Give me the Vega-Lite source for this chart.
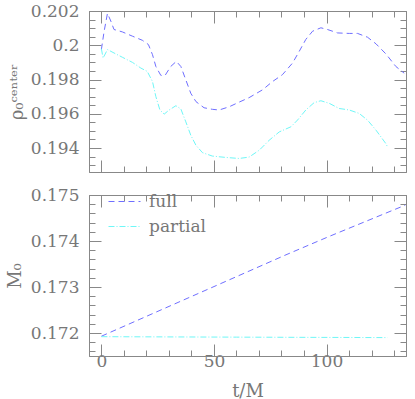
{
  "$schema": "https://vega.github.io/schema/vega-lite/v6.json",
  "padding": {"left": 5, "top": 1, "right": 8, "bottom": 0},
  "spacing": 10,
  "datasets": {
    "rho": [
      {"t": 0, "v": 0.19975, "series": "full"},
      {"t": 1.2, "v": 0.2008, "series": "full"},
      {"t": 2.7, "v": 0.20186, "series": "full"},
      {"t": 4.2, "v": 0.20141, "series": "full"},
      {"t": 5.6, "v": 0.20092, "series": "full"},
      {"t": 9.3, "v": 0.20078, "series": "full"},
      {"t": 13.8, "v": 0.20053, "series": "full"},
      {"t": 18.2, "v": 0.20029, "series": "full"},
      {"t": 20.9, "v": 0.20004, "series": "full"},
      {"t": 22.7, "v": 0.19945, "series": "full"},
      {"t": 24.2, "v": 0.19876, "series": "full"},
      {"t": 26.4, "v": 0.19824, "series": "full"},
      {"t": 28.3, "v": 0.19824, "series": "full"},
      {"t": 30.8, "v": 0.19876, "series": "full"},
      {"t": 33.3, "v": 0.19906, "series": "full"},
      {"t": 35.3, "v": 0.19876, "series": "full"},
      {"t": 37.5, "v": 0.19798, "series": "full"},
      {"t": 39.7, "v": 0.1972, "series": "full"},
      {"t": 42, "v": 0.19671, "series": "full"},
      {"t": 45.6, "v": 0.19635, "series": "full"},
      {"t": 49.3, "v": 0.19626, "series": "full"},
      {"t": 52.3, "v": 0.19622, "series": "full"},
      {"t": 56.8, "v": 0.19641, "series": "full"},
      {"t": 61.2, "v": 0.19668, "series": "full"},
      {"t": 65.6, "v": 0.19694, "series": "full"},
      {"t": 71.6, "v": 0.1974, "series": "full"},
      {"t": 76, "v": 0.19788, "series": "full"},
      {"t": 80.4, "v": 0.19828, "series": "full"},
      {"t": 84.9, "v": 0.19896, "series": "full"},
      {"t": 87.9, "v": 0.19965, "series": "full"},
      {"t": 90.8, "v": 0.20034, "series": "full"},
      {"t": 93.8, "v": 0.20082, "series": "full"},
      {"t": 97.5, "v": 0.20102, "series": "full"},
      {"t": 100.4, "v": 0.20092, "series": "full"},
      {"t": 104.9, "v": 0.20072, "series": "full"},
      {"t": 110.1, "v": 0.20069, "series": "full"},
      {"t": 113.8, "v": 0.20069, "series": "full"},
      {"t": 118.2, "v": 0.20047, "series": "full"},
      {"t": 122, "v": 0.20008, "series": "full"},
      {"t": 126.4, "v": 0.19949, "series": "full"},
      {"t": 130.8, "v": 0.19876, "series": "full"},
      {"t": 134.5, "v": 0.19837, "series": "full"},
      {"t": 0, "v": 0.1998, "series": "partial"},
      {"t": 0.75, "v": 0.19925, "series": "partial"},
      {"t": 2.7, "v": 0.19975, "series": "partial"},
      {"t": 5.6, "v": 0.19955, "series": "partial"},
      {"t": 9.3, "v": 0.1993, "series": "partial"},
      {"t": 13.8, "v": 0.199, "series": "partial"},
      {"t": 17.5, "v": 0.19867, "series": "partial"},
      {"t": 20.4, "v": 0.19847, "series": "partial"},
      {"t": 22.7, "v": 0.19788, "series": "partial"},
      {"t": 24.2, "v": 0.197, "series": "partial"},
      {"t": 26, "v": 0.19622, "series": "partial"},
      {"t": 27.9, "v": 0.19598, "series": "partial"},
      {"t": 30.1, "v": 0.19622, "series": "partial"},
      {"t": 33.1, "v": 0.19647, "series": "partial"},
      {"t": 35.3, "v": 0.19628, "series": "partial"},
      {"t": 37.5, "v": 0.19553, "series": "partial"},
      {"t": 39.7, "v": 0.19475, "series": "partial"},
      {"t": 42, "v": 0.19416, "series": "partial"},
      {"t": 44.9, "v": 0.19373, "series": "partial"},
      {"t": 49.3, "v": 0.19353, "series": "partial"},
      {"t": 55.3, "v": 0.19345, "series": "partial"},
      {"t": 61.2, "v": 0.19339, "series": "partial"},
      {"t": 65.6, "v": 0.19347, "series": "partial"},
      {"t": 70.1, "v": 0.19387, "series": "partial"},
      {"t": 74.5, "v": 0.19445, "series": "partial"},
      {"t": 79, "v": 0.19494, "series": "partial"},
      {"t": 84.2, "v": 0.19524, "series": "partial"},
      {"t": 87.1, "v": 0.19563, "series": "partial"},
      {"t": 90.8, "v": 0.19622, "series": "partial"},
      {"t": 94.5, "v": 0.19665, "series": "partial"},
      {"t": 97.5, "v": 0.19676, "series": "partial"},
      {"t": 101.2, "v": 0.19661, "series": "partial"},
      {"t": 105.6, "v": 0.19631, "series": "partial"},
      {"t": 110.1, "v": 0.19622, "series": "partial"},
      {"t": 114.5, "v": 0.19602, "series": "partial"},
      {"t": 118.2, "v": 0.19563, "series": "partial"},
      {"t": 122, "v": 0.19504, "series": "partial"},
      {"t": 126.4, "v": 0.19425, "series": "partial"},
      {"t": 127.1, "v": 0.19406, "series": "partial"}
    ],
    "mass": [
      {"t": 0, "v": 0.17193, "series": "full"},
      {"t": 82, "v": 0.1737, "series": "full"},
      {"t": 101.2, "v": 0.1741, "series": "full"},
      {"t": 135, "v": 0.17478, "series": "full"},
      {"t": 0, "v": 0.17192, "series": "partial"},
      {"t": 60, "v": 0.17191, "series": "partial"},
      {"t": 127.1, "v": 0.1719, "series": "partial"}
    ]
  },
  "resolve": {"scale": {"color": "independent", "strokeDash": "independent"}},
  "vconcat": [
    {
      "width": 317,
      "height": 161,
      "data": {"name": "rho"},
      "resolve": {"axis": {"x": "independent", "y": "independent"}},
      "layer": [
        {
          "transform": [{"filter": "datum.series === 'full'"}],
          "mark": {"type": "line", "strokeWidth": 1, "clip": true},
          "encoding": {
            "x": {"field": "t", "type": "quantitative",
              "scale": {"domain": [-5.5, 135.3], "nice": false, "zero": false},
              "axis": {"orient": "bottom", "title": null, "labels": false,
                "values": [0,10,20,30,40,50,60,70,80,90,100,110,120,130],
                "tickSize": {"condition": {"test": "datum.value % 50 === 0", "value": -12}, "value": -6}}},
            "y": {"field": "v", "type": "quantitative",
              "scale": {"domain": [0.1926, 0.202], "nice": false, "zero": false},
              "axis": {"orient": "left", "title": "ρ₀ᶜᵉⁿᵗᵉʳ", "titlePadding": 4,
                "values": [0.193,0.1935,0.194,0.1945,0.195,0.1955,0.196,0.1965,0.197,0.1975,0.198,0.1985,0.199,0.1995,0.2,0.2005,0.201,0.2015,0.202],
                "labelExpr": "(abs(datum.value*500 - round(datum.value*500)) < 1e-6) ? format(datum.value, '~g') : ''",
                "labelPadding": 22,
                "tickSize": {"condition": {"test": "abs(datum.value*500 - round(datum.value*500)) < 1e-6", "value": -12}, "value": -6}}},
            "color": {"field": "series", "type": "nominal", "legend": null,
              "scale": {"domain": ["full", "partial"], "range": ["#6f6fff", "#6ff7f7"]}},
            "strokeDash": {"field": "series", "type": "nominal", "legend": null,
              "scale": {"domain": ["full", "partial"], "range": [[6, 4], [6, 2, 1, 2]]}}
          }
        },
        {
          "transform": [{"filter": "datum.series === 'partial'"}],
          "mark": {"type": "line", "strokeWidth": 1, "clip": true},
          "encoding": {
            "x": {"field": "t", "type": "quantitative",
              "axis": {"orient": "top", "title": null, "labels": false,
                "values": [0,10,20,30,40,50,60,70,80,90,100,110,120,130],
                "tickSize": {"condition": {"test": "datum.value % 50 === 0", "value": -12}, "value": -6}}},
            "y": {"field": "v", "type": "quantitative",
              "axis": {"orient": "right", "title": null, "labels": false,
                "values": [0.193,0.1935,0.194,0.1945,0.195,0.1955,0.196,0.1965,0.197,0.1975,0.198,0.1985,0.199,0.1995,0.2,0.2005,0.201,0.2015,0.202],
                "tickSize": {"condition": {"test": "abs(datum.value*500 - round(datum.value*500)) < 1e-6", "value": -12}, "value": -6}}},
            "color": {"field": "series", "type": "nominal", "legend": null},
            "strokeDash": {"field": "series", "type": "nominal", "legend": null}
          }
        }
      ]
    },
    {
      "width": 317,
      "height": 161,
      "data": {"name": "mass"},
      "resolve": {"axis": {"x": "independent", "y": "independent"}},
      "layer": [
        {
          "transform": [{"filter": "datum.series === 'full'"}],
          "mark": {"type": "line", "strokeWidth": 1, "clip": true},
          "encoding": {
            "x": {"field": "t", "type": "quantitative",
              "scale": {"domain": [-5.5, 135.3], "nice": false, "zero": false},
              "axis": {"orient": "bottom", "title": "t/M", "titlePadding": 7,
                "values": [0,10,20,30,40,50,60,70,80,90,100,110,120,130],
                "labelExpr": "datum.value % 50 === 0 ? datum.label : ''",
                "labelPadding": 9,
                "tickSize": {"condition": {"test": "datum.value % 50 === 0", "value": -12}, "value": -6}}},
            "y": {"field": "v", "type": "quantitative",
              "scale": {"domain": [0.1715, 0.175], "nice": false, "zero": false},
              "axis": {"orient": "left", "title": "M₀", "titlePadding": 6,
                "values": [0.1716,0.1718,0.172,0.1722,0.1724,0.1726,0.1728,0.173,0.1732,0.1734,0.1736,0.1738,0.174,0.1742,0.1744,0.1746,0.1748,0.175],
                "labelExpr": "(abs(datum.value*1000 - round(datum.value*1000)) < 1e-6) ? format(datum.value, '~g') : ''",
                "labelPadding": 22,
                "tickSize": {"condition": {"test": "abs(datum.value*1000 - round(datum.value*1000)) < 1e-6", "value": -12}, "value": -6}}},
            "color": {"field": "series", "type": "nominal",
              "scale": {"domain": ["full", "partial"], "range": ["#6f6fff", "#6ff7f7"]},
              "legend": {"title": null, "orient": "top-left", "offset": -10, "padding": 0, "symbolOffset": 29, "rowPadding": -10, "labelOffset": 8}},
            "strokeDash": {"field": "series", "type": "nominal",
              "scale": {"domain": ["full", "partial"], "range": [[6, 4], [6, 2, 1, 2]]},
              "legend": {"title": null, "orient": "top-left", "offset": -10, "padding": 0, "symbolOffset": 29, "rowPadding": -10, "labelOffset": 8}}
          }
        },
        {
          "transform": [{"filter": "datum.series === 'partial'"}],
          "mark": {"type": "line", "strokeWidth": 1, "clip": true},
          "encoding": {
            "x": {"field": "t", "type": "quantitative",
              "axis": {"orient": "top", "title": null, "labels": false,
                "values": [0,10,20,30,40,50,60,70,80,90,100,110,120,130],
                "tickSize": {"condition": {"test": "datum.value % 50 === 0", "value": -12}, "value": -6}}},
            "y": {"field": "v", "type": "quantitative",
              "axis": {"orient": "right", "title": null, "labels": false,
                "values": [0.1716,0.1718,0.172,0.1722,0.1724,0.1726,0.1728,0.173,0.1732,0.1734,0.1736,0.1738,0.174,0.1742,0.1744,0.1746,0.1748,0.175],
                "tickSize": {"condition": {"test": "abs(datum.value*1000 - round(datum.value*1000)) < 1e-6", "value": -12}, "value": -6}}},
            "color": {"field": "series", "type": "nominal"},
            "strokeDash": {"field": "series", "type": "nominal"}
          }
        }
      ]
    }
  ],
  "config": {
    "view": {"stroke": "#888"},
    "axis": {
      "grid": false,
      "domainColor": "#888",
      "tickColor": "#888",
      "tickWidth": 1,
      "labelColor": "#777",
      "titleColor": "#777",
      "labelFont": "DejaVu Serif",
      "titleFont": "DejaVu Serif",
      "labelFontSize": 17,
      "titleFontSize": 18,
      "titleFontWeight": "normal",
      "labelFlush": false,
      "labelOverlap": false
    },
    "legend": {
      "labelFont": "DejaVu Serif",
      "labelFontSize": 17,
      "labelColor": "#777",
      "symbolType": "stroke",
      "symbolSize": 1024,
      "symbolStrokeWidth": 1
    }
  }
}
